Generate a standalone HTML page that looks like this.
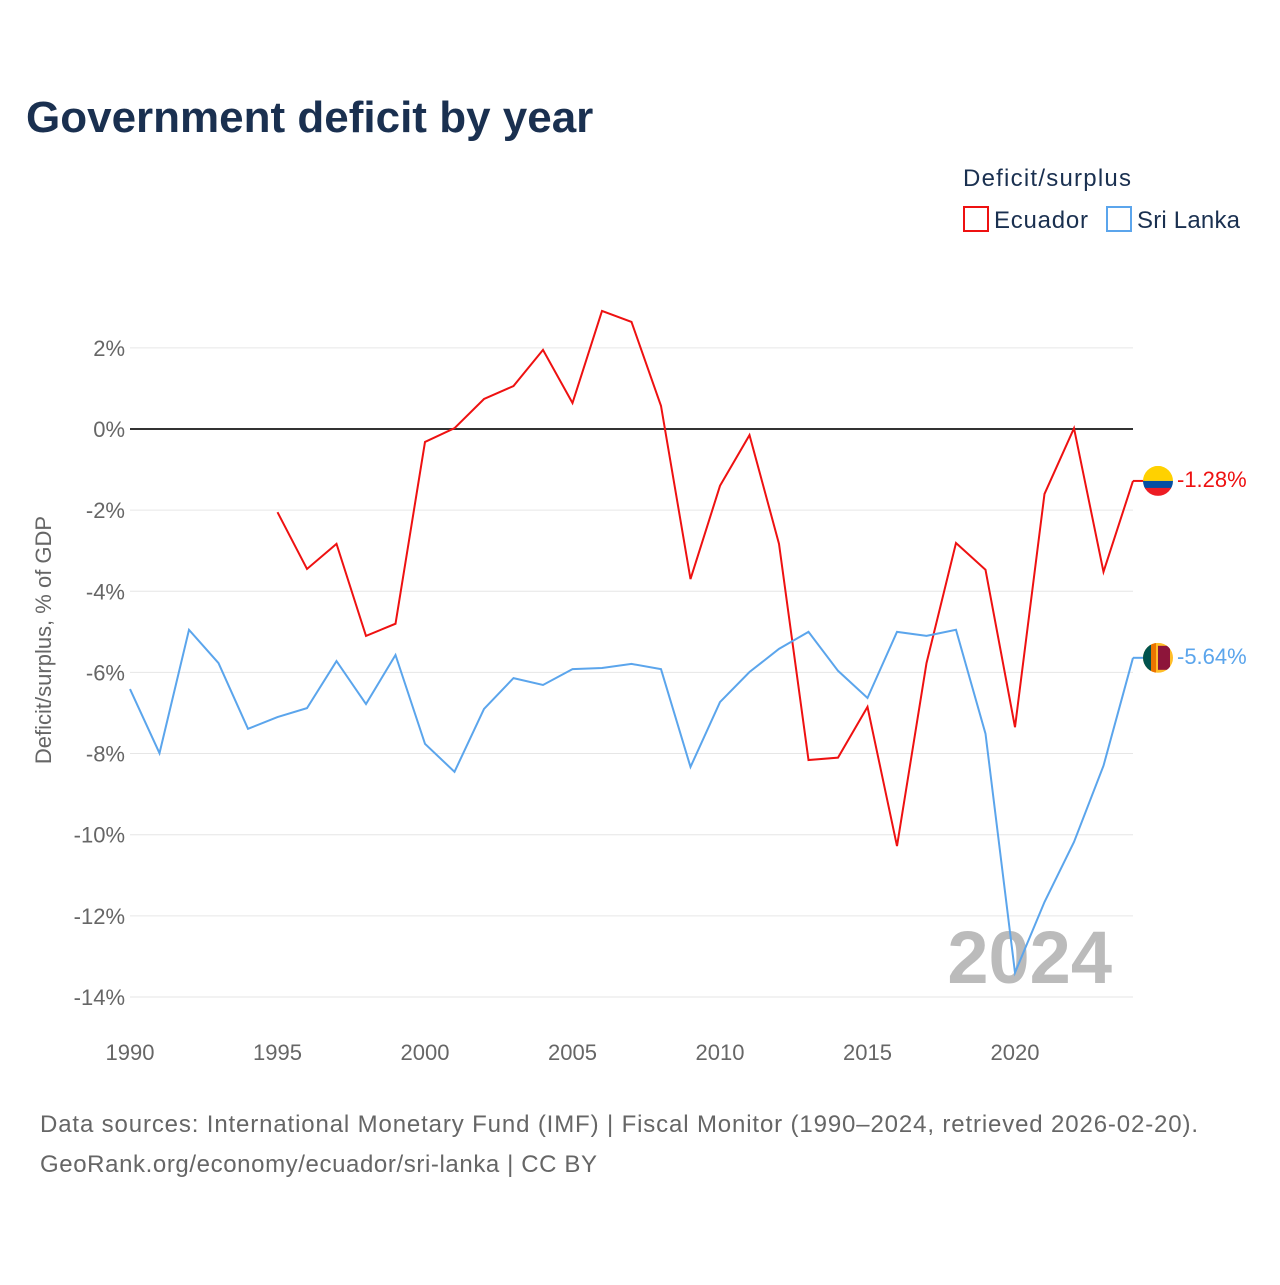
<!DOCTYPE html>
<html><head><meta charset="utf-8"><style>
body{margin:0;background:#fff;font-family:"Liberation Sans",sans-serif;}
svg text{font-family:"Liberation Sans",sans-serif;}
</style></head><body>
<svg id="chart" width="1280" height="1280">
<defs>
<clipPath id="c1"><circle cx="1158" cy="481" r="15"/></clipPath>
<clipPath id="c2"><circle cx="1158" cy="658" r="15"/></clipPath>
</defs>
<text x="26" y="132" font-size="44" font-weight="bold" fill="#1a3050">Government deficit by year</text>
<text x="963" y="186" font-size="24" fill="#1a3050" textLength="168">Deficit/surplus</text>
<g><rect x="964" y="207" width="24" height="24" fill="none" stroke="#ee1111" stroke-width="2"/><text x="994" y="228" font-size="24" fill="#1a3050" textLength="94">Ecuador</text></g>
<g><rect x="1107" y="207" width="24" height="24" fill="none" stroke="#5ba5ec" stroke-width="2"/><text x="1137" y="228" font-size="24" fill="#1a3050" textLength="103">Sri Lanka</text></g>
<g id="grid"></g><g id="axes"></g>
<text x="1112" y="983" font-size="74" font-weight="bold" fill="#bbbbbb" text-anchor="end">2024</text>
<g id="series"></g>
<text transform="translate(51,640) rotate(-90)" font-size="22" fill="#666" text-anchor="middle">Deficit/surplus, % of GDP</text>
<text x="40" y="1132" font-size="24" fill="#666" textLength="1158">Data sources: International Monetary Fund (IMF) | Fiscal Monitor (1990–2024, retrieved 2026-02-20).</text>
<text x="40" y="1172" font-size="24" fill="#666" textLength="557">GeoRank.org/economy/ecuador/sri-lanka | CC BY</text>
</svg>
<script>
const years=[];for(let y=1990;y<=2024;y++)years.push(y);
const ecuadorYears=[1995,1996,1997,1998,1999,2000,2001,2002,2003,2004,2005,2006,2007,2008,2009,2010,2011,2012,2013,2014,2015,2016,2017,2018,2019,2020,2021,2022,2023,2024];
const ecuador=[-2.05,-3.45,-2.83,-5.1,-4.8,-0.32,0.02,0.74,1.06,1.95,0.64,2.91,2.64,0.57,-3.7,-1.4,-0.15,-2.83,-8.16,-8.1,-6.85,-10.28,-5.77,-2.81,-3.47,-7.35,-1.6,0.02,-3.52,-1.28];
const sriLanka=[-6.41,-7.99,-4.95,-5.77,-7.39,-7.1,-6.88,-5.72,-6.78,-5.57,-7.76,-8.45,-6.9,-6.14,-6.31,-5.92,-5.89,-5.79,-5.92,-8.33,-6.73,-5.99,-5.42,-5.0,-5.96,-6.63,-5.0,-5.1,-4.95,-7.51,-13.4,-11.66,-10.18,-8.3,-5.64];
const yTicks=[2,0,-2,-4,-6,-8,-10,-12,-14];
const xTicks=[1990,1995,2000,2005,2010,2015,2020];
const NS='http://www.w3.org/2000/svg';
const X=y=>130+(y-1990)*(1133-130)/34;
const Y=v=>429-v*40.57;
function mk(tag,attrs,parent){const e=document.createElementNS(NS,tag);for(const k in attrs)e.setAttribute(k,attrs[k]);parent.appendChild(e);return e;}
const grid=document.getElementById('grid'),axes=document.getElementById('axes'),ser=document.getElementById('series');
yTicks.forEach(t=>{
 const l=mk('line',{x1:130,x2:1133,y1:Y(t),y2:Y(t),stroke:t===0?'#333':'#e6e6e6','stroke-width':t===0?2:1},grid);
 
 
 const tx=mk('text',{x:125,y:Y(t)+8,'font-size':22,fill:'#666','text-anchor':'end'},axes);
 tx.textContent=t+'%';
 
 
});
xTicks.forEach(t=>{
 const tx=mk('text',{x:X(t),y:1060,'font-size':22,fill:'#666','text-anchor':'middle'},axes);
 tx.textContent=t;
 
 
});
function line(xs,vs,color,name){
 const p=mk('polyline',{points:xs.map((x,i)=>X(x)+','+Y(vs[i])).join(' '),fill:'none',stroke:color,'stroke-width':2},ser);
 
 
}
line(ecuadorYears,ecuador,'#ee1111','ecuador-line');
line(years,sriLanka,'#5ba5ec','sri-lanka-line');
function endLabel(v,color,name,flag){
 const y=Y(v);
 const g=mk('g',{},ser);
 
 
 mk('line',{x1:1133,x2:1145,y1:y,y2:y,stroke:color,'stroke-width':2},g);
 const cg=mk('g',{'clip-path':flag==='ec'?'url(#c1)':'url(#c2)',transform:'translate(0,'+(y-(flag==='ec'?481:658))+')'},g);
 const by=flag==='ec'?481:658;
 if(flag==='ec'){
  mk('rect',{x:1143,y:by-15,width:30,height:15,fill:'#ffd100'},cg);
  mk('rect',{x:1143,y:by,width:30,height:8,fill:'#034ea2'},cg);
  mk('rect',{x:1143,y:by+7,width:30,height:8,fill:'#ed1c24'},cg);
 }else{
  mk('rect',{x:1143,y:by-15,width:30,height:30,fill:'#ffbe29'},cg);
  mk('rect',{x:1143,y:by-15,width:8,height:30,fill:'#00534e'},cg);
  mk('rect',{x:1151,y:by-15,width:5,height:30,fill:'#eb7400'},cg);
  mk('rect',{x:1158,y:by-12,width:12,height:24,fill:'#8d153a'},cg);
 }
 const t=mk('text',{x:1177,y:y+6,'font-size':22,fill:color},g);
 t.textContent=v.toFixed(2)+'%';
}
endLabel(ecuador[ecuador.length-1],'#ee1111','ecuador-end-label','ec');
endLabel(sriLanka[sriLanka.length-1],'#5ba5ec','sri-lanka-end-label','lk');
</script>
</body></html>
